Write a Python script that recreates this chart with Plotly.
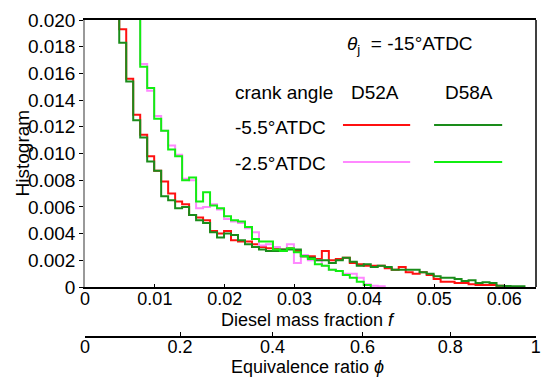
import numpy as np
import plotly.graph_objects as go

# ---------------- data ----------------
bin_start = 0.0039      # left edge of first bin
bin_width = 0.001
afr_st = 14.5           # stoichiometric air/fuel ratio used for the phi axis

d52a_m55 = [0.0240, 0.0193, 0.0156, 0.0129, 0.0114, 0.0098, 0.0087, 0.0079, 0.0070, 0.0064,
            0.0062, 0.0054, 0.0052, 0.0050, 0.0042, 0.0040, 0.0042, 0.0035, 0.0034, 0.0034,
            0.0032, 0.0030, 0.0029, 0.0029, 0.0028, 0.0029, 0.0027, 0.0023, 0.0023, 0.0021,
            0.0027, 0.0020, 0.0021, 0.0022, 0.0018, 0.0017, 0.0016, 0.0016, 0.0016, 0.0014,
            0.0013, 0.0015, 0.0011, 0.0010, 0.0011, 0.0009, 0.0006, 0.0004, 0.0004, 0.0003,
            0.0003, 0.0002, 0.00015, 0.00015, 0.00015, 0.0001]
d58a_m55 = [0.0240, 0.0183, 0.0154, 0.0125, 0.0112, 0.0094, 0.0087, 0.0068, 0.0065, 0.0059,
            0.0060, 0.0054, 0.0050, 0.0048, 0.0041, 0.0037, 0.0040, 0.0039, 0.0035, 0.0032,
            0.0030, 0.0028, 0.0027, 0.0027, 0.0028, 0.0028, 0.0028, 0.0023, 0.0022, 0.0020,
            0.0020, 0.0018, 0.0020, 0.0022, 0.0019, 0.0016, 0.0017, 0.0015, 0.0016, 0.0015,
            0.0013, 0.0013, 0.0013, 0.0013, 0.0011, 0.0010, 0.0008, 0.0007, 0.0007, 0.0006,
            0.00045, 0.0005, 0.0003, 0.00035, 0.0003, 0.0001, 0.00008, 0.00005, 0.00005]
d52a_m25 = [0.0300, 0.0280, 0.0250, 0.0210, 0.0167, 0.0147, 0.0128, 0.0117, 0.0106, 0.0099,
            0.0081, 0.0080, 0.0059, 0.0060, 0.0062, 0.0058, 0.0051, 0.0049, 0.0048, 0.0044,
            0.0041, 0.0031, 0.0032, 0.0030, 0.0028, 0.0032, 0.0018, 0.0024, 0.0020, 0.0020,
            0.0016, 0.0013, 0.0012, 0.0010, 0.0010, 0.0007, 0.0002, 0.0001, 0.00005]
d58a_m25 = [0.0300, 0.0280, 0.0250, 0.0210, 0.0165, 0.0149, 0.0126, 0.0117, 0.0103, 0.0098,
            0.0080, 0.0082, 0.0064, 0.0071, 0.0061, 0.0059, 0.0053, 0.0050, 0.0049, 0.0045,
            0.0036, 0.0034, 0.0034, 0.0028, 0.0027, 0.0029, 0.0026, 0.0023, 0.0021, 0.0017,
            0.0016, 0.0013, 0.0012, 0.0009, 0.0007, 0.0004, 0.00015]

x_ticks = [0, 0.01, 0.02, 0.03, 0.04, 0.05, 0.06]
x_ticktext = ["0", "0.01", "0.02", "0.03", "0.04", "0.05", "0.06"]
y_ticks = [0, 0.002, 0.004, 0.006, 0.008, 0.010, 0.012, 0.014, 0.016, 0.018, 0.020]
y_ticktext = ["0", "0.002", "0.004", "0.006", "0.008", "0.010", "0.012", "0.014", "0.016", "0.018", "0.020"]
phi_ticks = [0, 0.2, 0.4, 0.6, 0.8, 1]
phi_ticktext = ["0", "0.2", "0.4", "0.6", "0.8", "1"]

series = [
    ("D52A -5.5", d52a_m55, "#ff1010"),
    ("D52A -2.5", d52a_m25, "#ff88ff"),
    ("D58A -5.5", d58a_m55, "#1a8c1a"),
    ("D58A -2.5", d58a_m25, "#11ee11"),
]

FONT = "Liberation Sans, Arial, sans-serif"
FS = 19     # text inside the plot and y tick labels
FX = 18     # x axis tick labels and titles
XMAX = 0.06455

fig = go.Figure()
for name, vals, col in series:
    n = len(vals)
    edges = np.round(bin_start + bin_width * np.arange(n + 1), 5)
    fig.add_trace(go.Scatter(x=edges, y=list(vals) + [0], mode="lines",
                             line=dict(color=col, width=2, shape="hv"),
                             name=name, showlegend=False, hoverinfo="skip"))

# dummy trace to carry the equivalence-ratio axis
fig.add_trace(go.Scatter(x=[0], y=[None], xaxis="x2", yaxis="y", mode="lines",
                         showlegend=False, hoverinfo="skip"))

phi_pos = [p / (afr_st + p) for p in phi_ticks]

fig.update_layout(
    width=542, height=377,
    margin=dict(l=85, r=6, t=20, b=40),
    paper_bgcolor="white", plot_bgcolor="white",
    font=dict(family=FONT, size=FS, color="black"),
    xaxis=dict(range=[0, XMAX], tickvals=x_ticks, ticktext=x_ticktext,
               ticks="inside", ticklen=3, tickcolor="black",
               showline=True, linecolor="black", linewidth=1.5, mirror=True,
               showgrid=False, zeroline=False, ticklabelstandoff=-5,
               automargin=False, tickfont=dict(size=FX)),
    xaxis2=dict(range=[0, XMAX], overlaying="x", anchor="free", position=0,
                side="bottom", tickvals=phi_pos, ticktext=phi_ticktext,
                ticks="inside", ticklen=4, tickcolor="black",
                showline=True, linecolor="black", linewidth=1.5,
                showgrid=False, zeroline=False, ticklabelstandoff=-6,
                automargin=False, tickfont=dict(size=FX)),
    yaxis=dict(domain=[50 / 317, 1], range=[0, 0.020], tickvals=y_ticks,
               ticktext=y_ticktext, ticks="outside", ticklen=4, tickcolor="black",
               showline=True, linecolor="#999999", linewidth=1.5,
               showgrid=False, zeroline=False,
               automargin=False, tickfont=dict(size=FS)),
)

# right border
fig.add_shape(type="line", xref="x domain", yref="y domain", x0=1, x1=1, y0=0, y1=1,
              line=dict(color="black", width=1.5))

def ann(text, x, y, xanchor="left", angle=0, size=FS):
    fig.add_annotation(text=text, xref="x domain", yref="y domain", x=x, y=y,
                       xanchor=xanchor, yanchor="middle", showarrow=False, textangle=angle,
                       font=dict(family=FONT, size=size, color="black"))

# axis titles
ann("Diesel mass fraction <i>f</i>", 0.495, -0.124, "center", size=FX)
ann("Equivalence ratio <i>ϕ</i>", 0.493, -0.300, "center", size=FX)
ann("Histogram", -0.1397, 0.504, "center", -90)

# legend grid
ann("<i>θ</i><sub>j</sub>  = -15°ATDC", 0.576, 0.906)
ann("crank angle", 0.328, 0.730)
ann("D52A", 0.643, 0.730, "center")
ann("D58A", 0.851, 0.730, "center")
ann("-5.5°ATDC", 0.328, 0.596)
ann("-2.5°ATDC", 0.328, 0.461)

for (x0, x1), y, col in [((0.572, 0.721), 0.607, "#ff1010"), ((0.774, 0.925), 0.607, "#1a8c1a"),
                         ((0.572, 0.721), 0.468, "#ff88ff"), ((0.774, 0.925), 0.468, "#11ee11")]:
    fig.add_shape(type="line", xref="x domain", yref="y domain", x0=x0, x1=x1, y0=y, y1=y,
                  line=dict(color=col, width=2))

fig.write_html("out.html")
